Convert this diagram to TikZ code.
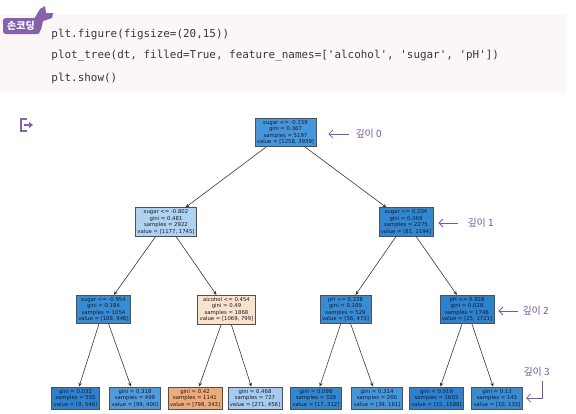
\documentclass[tikz,border=0pt]{standalone}
\usepackage{fontspec}
\newfontfamily\treefont{DejaVu Sans}
\newfontfamily\codefont[Ligatures=TeXOff]{DejaVu Sans Mono}
\newfontfamily\hanfont{Noto Sans CJK KR}
\usetikzlibrary{arrows.meta}

\tikzset{every picture/.style={line width=0.75pt}}
\tikzset{
	treebox/.style={draw={rgb, 255:red, 80; green, 80; blue, 80 }, line width=0.4pt, inner xsep=1.5pt, inner ysep=1.6pt, align=center, font=\treefont\fontsize{4}{4.9}\selectfont, text={rgb, 255:red, 25; green, 25; blue, 35 }},
	treeedge/.style={draw={rgb, 255:red, 55; green, 55; blue, 55 }, line width=0.45pt, -{Stealth[length=3pt,width=2.6pt]}},
	codeline/.style={anchor=west, inner sep=0.75pt, font=\codefont\fontsize{8.2}{9}\selectfont, text={rgb, 255:red, 55; green, 55; blue, 60 }},
	depthnote/.style={anchor=west, inner sep=0.75pt, font=\hanfont\fontsize{7.5}{8}\selectfont, text={rgb, 255:red, 118; green, 88; blue, 160 }},
	deptharrow/.style={draw={rgb, 255:red, 118; green, 88; blue, 160 }, line width=0.6pt, -{Straight Barb[length=3pt,width=6pt]}}
}

\begin{document}
\begin{tikzpicture}[x=0.75pt,y=0.75pt,yscale=-1,xscale=1]
	\useasboundingbox (0,0) rectangle (576,414);
	
	%Shape: Rectangle [code background]
	\fill [color={rgb, 255:red, 252; green, 247; blue, 247 }] (0,14) rectangle (566,93);
	%Shape: Tag [hand]
	\fill [color={rgb, 255:red, 134; green, 98; blue, 170 }] (34,19) -- (40,9) -- (45,6) -- (46,13) -- (53,13) -- (52,18) -- (43,21) -- (41,30) -- (36,33) -- cycle ;
	\fill [color={rgb, 255:red, 134; green, 98; blue, 170 }, rounded corners=2pt] (3,18) rectangle (40,34);
	% Text Node
	\node [inner sep=0pt, font=\hanfont\bfseries\fontsize{7.5}{8}\selectfont, text=white] (tag) at (21,26) {손코딩};
	
	% Text Node
	\node [codeline] (line1) at (50,34) {plt.figure(figsize=(20,15))};
	\node [codeline] (line2) at (50,56) {plot\_tree(dt, filled=True, feature\_names=['alcohol', 'sugar', 'pH'])};
	\node [codeline] (line3) at (50,78) {plt.show()};
	
	%Shape: Output icon
	\draw [color={rgb, 255:red, 134; green, 98; blue, 170 }, line width=1pt] (27,119) -- (21,119) -- (21,131) -- (27,131) ;
	\draw [color={rgb, 255:red, 134; green, 98; blue, 170 }, line width=1.2pt, -{Triangle[length=3pt,width=4.5pt]}] (24,125) -- (33,125) ;
	
	% Tree nodes
	\node [treebox, fill={rgb, 255:red, 70; green, 150; blue, 220 }] (root) at (285.5,132.5) {sugar <= -0.239\\gini = 0.367\\samples = 5197\\value = [1258, 3939]};
	\node [treebox, fill={rgb, 255:red, 175; green, 210; blue, 242 }] (d1l) at (166,222) {sugar <= -0.802\\gini = 0.481\\samples = 2922\\value = [1177, 1745]};
	\node [treebox, fill={rgb, 255:red, 50; green, 135; blue, 210 }] (d1r) at (406,222) {sugar <= 0.204\\gini = 0.069\\samples = 2275\\value = [81, 2194]};
	\node [treebox, fill={rgb, 255:red, 55; green, 140; blue, 212 }] (d2a) at (103.5,309.5) {sugar <= -0.954\\gini = 0.184\\samples = 1054\\value = [108, 946]};
	\node [treebox, fill={rgb, 255:red, 251; green, 226; blue, 205 }] (d2b) at (226.5,309.5) {alcohol <= 0.454\\gini = 0.49\\samples = 1868\\value = [1069, 799]};
	\node [treebox, fill={rgb, 255:red, 55; green, 140; blue, 212 }] (d2c) at (345.5,309.5) {pH <= 0.238\\gini = 0.189\\samples = 529\\value = [56, 473]};
	\node [treebox, fill={rgb, 255:red, 45; green, 130; blue, 208 }] (d2d) at (467,309.5) {pH <= 0.928\\gini = 0.028\\samples = 1746\\value = [25, 1721]};
	\node [treebox, fill={rgb, 255:red, 45; green, 130; blue, 208 }] (d3a) at (75.5,398) {gini = 0.032\\samples = 555\\value = [9, 546]};
	\node [treebox, fill={rgb, 255:red, 80; green, 155; blue, 222 }] (d3b) at (135,398) {gini = 0.318\\samples = 499\\value = [99, 400]};
	\node [treebox, fill={rgb, 255:red, 238; green, 170; blue, 120 }] (d3c) at (195,398) {gini = 0.42\\samples = 1141\\value = [798, 343]};
	\node [treebox, fill={rgb, 255:red, 165; green, 203; blue, 240 }] (d3d) at (255,398) {gini = 0.468\\samples = 727\\value = [271, 456]};
	\node [treebox, fill={rgb, 255:red, 50; green, 135; blue, 210 }] (d3e) at (316,398) {gini = 0.098\\samples = 329\\value = [17, 312]};
	\node [treebox, fill={rgb, 255:red, 70; green, 150; blue, 220 }] (d3f) at (377,398) {gini = 0.314\\samples = 200\\value = [39, 161]};
	\node [treebox, fill={rgb, 255:red, 45; green, 130; blue, 208 }] (d3g) at (436.5,398) {gini = 0.019\\samples = 1603\\value = [15, 1588]};
	\node [treebox, fill={rgb, 255:red, 55; green, 140; blue, 212 }] (d3h) at (497,398) {gini = 0.13\\samples = 143\\value = [10, 133]};
	
	%Straight Lines [tree edges]
	\draw [treeedge] (root) -- (d1l) ;
	\draw [treeedge] (root) -- (d1r) ;
	\draw [treeedge] (d1l) -- (d2a) ;
	\draw [treeedge] (d1l) -- (d2b) ;
	\draw [treeedge] (d1r) -- (d2c) ;
	\draw [treeedge] (d1r) -- (d2d) ;
	\draw [treeedge] (d2a) -- (d3a) ;
	\draw [treeedge] (d2a) -- (d3b) ;
	\draw [treeedge] (d2b) -- (d3c) ;
	\draw [treeedge] (d2b) -- (d3d) ;
	\draw [treeedge] (d2c) -- (d3e) ;
	\draw [treeedge] (d2c) -- (d3f) ;
	\draw [treeedge] (d2d) -- (d3g) ;
	\draw [treeedge] (d2d) -- (d3h) ;
	
	% Text Node [depth notes]
	\node [depthnote] (note0) at (354,134) {깊이 0};
	\node [depthnote] (note1) at (466,223) {깊이 1};
	\node [depthnote] (note2) at (521,311) {깊이 2};
	\node [depthnote] (note3) at (522,372) {깊이 3};
	\coordinate (turn3) at (542,381);
	
	%Straight Lines [depth arrows]
	\draw [deptharrow, shorten <=4pt, shorten >=9pt] (note0.west) -- (note0.west -| root.east) ;
	\draw [deptharrow, shorten <=6pt, shorten >=3.75pt] (note1.west) -- (note1.west -| d1r.east) ;
	\draw [deptharrow, shorten <=2.5pt, shorten >=3pt] (note2.west) -- (note2.west -| d2d.east) ;
	\draw [deptharrow, shorten >=2.5pt] (turn3) |- (d3h.east) ;
	
\end{tikzpicture}
\end{document}
